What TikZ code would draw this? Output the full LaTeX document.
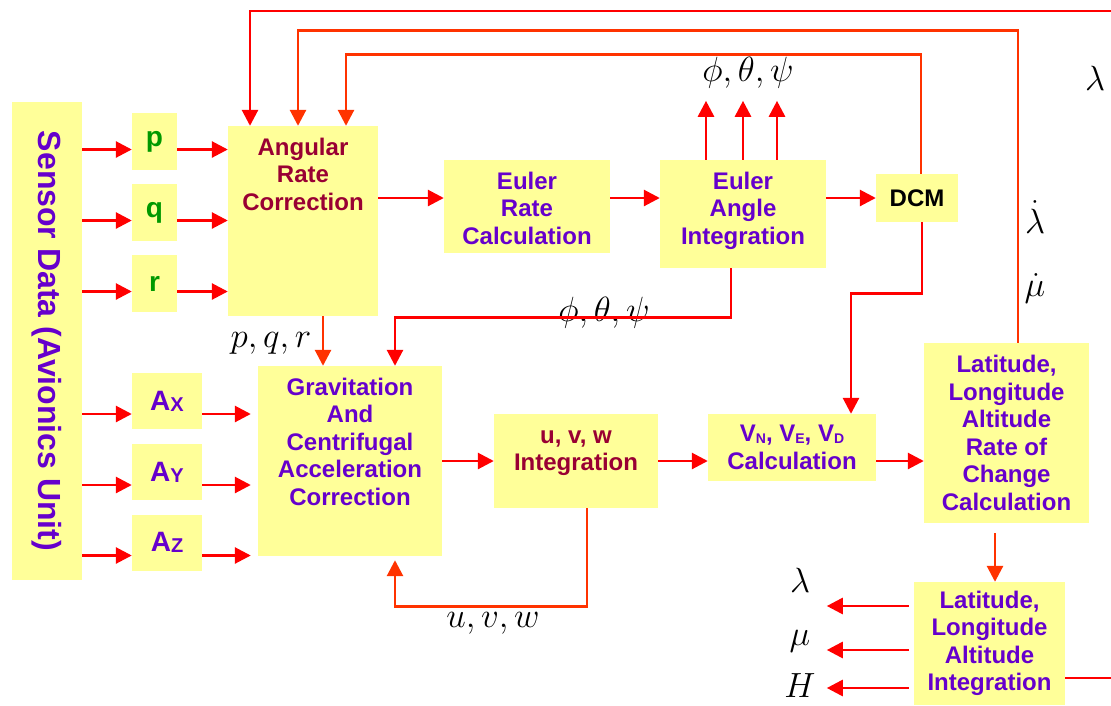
\RequirePackage{fix-cm}
\documentclass[tikz,border=0pt]{standalone}
\usepackage{fontspec}
\setmainfont{Liberation Sans}
\usetikzlibrary{positioning,arrows.meta}
\definecolor{boxyellow}{HTML}{FFFF99}
\definecolor{calcpurple}{HTML}{6600CC}
\definecolor{darkred}{HTML}{990033}
\definecolor{siggreen}{HTML}{009900}
\definecolor{arrowred}{HTML}{FF0000}
\definecolor{feedred}{HTML}{FF3300}
\newcommand{\toptext}[3]{\parbox[c][#1][t]{#2}{\centering\rule{0pt}{29pt}#3}}
\newcommand{\axsub}[1]{\raisebox{-1pt}{\fontsize{20}{20}\selectfont #1}}
\newcommand{\vsub}[1]{\raisebox{-2pt}{\fontsize{14}{14}\selectfont #1}}

\begin{document}
\begin{tikzpicture}[x=1pt, y=-1pt,
  blk/.style={fill=boxyellow, inner sep=0pt, align=center, text=calcpurple,
              font=\fontsize{24}{27.5}\selectfont\bfseries},
  sig/.style={blk, text=siggreen, font=\fontsize{28}{30}\selectfont\bfseries},
  flow/.style={draw=arrowred, line width=2.8pt, -{Triangle[length=16pt, width=16pt]}},
  feed/.style={flow, draw=feedred},
  var/.style={inner sep=0pt, font=\fontsize{35}{35}\selectfont}
]
\useasboundingbox (0,0) rectangle (1111,705);

% sensor and inputs
\node[blk, minimum width=70pt, minimum height=478pt, font=\fontsize{32}{32}\selectfont\bfseries]
  (sensor) at (47,341) {\rotatebox{-90}{Sensor Data (Avionics Unit)}};
\node[sig, minimum width=45pt, minimum height=57pt] (p) at (154.5,141.5) {p};
\node[sig, minimum width=45pt, minimum height=57pt] (q) at (154.5,212.5) {q};
\node[sig, minimum width=45pt, minimum height=57pt] (r) at (154.5,283.5) {r};
\node[sig, text=calcpurple, minimum width=70pt, minimum height=56pt] (ax) at (167,401) {A\axsub{X}};
\node[sig, text=calcpurple, minimum width=70pt, minimum height=56pt] (ay) at (167,472) {A\axsub{Y}};
\node[sig, text=calcpurple, minimum width=70pt, minimum height=56pt] (az) at (167,542.5) {A\axsub{Z}};

% blocks
\node[blk, text=darkred] (arc) at (303,221) {\toptext{190pt}{150pt}{Angular\\Rate\\Correction}};
\node[blk] (er) at (527,206.5) {\toptext{93pt}{166pt}{Euler\\Rate\\Calculation}};
\node[blk] (eai) at (743,214) {\toptext{108pt}{166pt}{Euler\\Angle\\Integration}};
\node[blk, text=black, minimum width=82pt, minimum height=48pt] (dcm) at (917,198) {DCM};
\node[blk] (gacc) at (350,461)
  {\toptext{190pt}{184pt}{Gravitation\\And\\Centrifugal\\Acceleration\\Correction}};
\node[blk, text=darkred] (uvw) at (576,461) {\toptext{94pt}{164pt}{u, v, w\\Integration}};
\node[blk, minimum width=168pt, minimum height=67pt] (vn) at (792,447.5)
  {V\vsub{N}, V\vsub{E}, V\vsub{D}\\Calculation};
\node[blk, minimum width=165pt, minimum height=180pt] (lr) at (1006.5,433)
  {Latitude,\\Longitude\\Altitude\\Rate of\\Change\\Calculation};
\node[blk, minimum width=151pt, minimum height=123pt] (li) at (989.5,643.5)
  {Latitude,\\Longitude\\Altitude\\Integration};

% variable labels
\node[var] (angout) at (748,73) {$\phi,\theta,\psi$};
\node[var] (anglbl) at (604,313) {$\phi,\theta,\psi$};
\node[var] (pqrlbl) at (271,343) {$p,q,r$};
\node[var] (uvwlbl) at (493,623) {$u,v,w$};
\node[var] (lamtop) at (1095,78) {$\lambda$};
\node[var] (lamdot) at (1035,217) {$\dot\lambda$};
\node[var] (mudot) at (1035,288) {$\dot\mu$};
\node[var] (lamout) at (800,580) {$\lambda$};
\node[var] (muout) at (800,641) {$\mu$};
\node[var] (hout) at (800,686) {$H$};
\coordinate (farright) at (1111,11);
\coordinate (farright2) at (1111,678);

% sensor to signals
\draw[flow] ([yshift=-8pt]sensor.east |- p.west) -- ([yshift=-8pt]p.west);
\draw[flow] ([yshift=-8pt]sensor.east |- q.west) -- ([yshift=-8pt]q.west);
\draw[flow] ([yshift=-8pt]sensor.east |- r.west) -- ([yshift=-8pt]r.west);
\draw[flow] ([yshift=-8pt]p.east) -- ([yshift=-8pt]arc.west |- p.east);
\draw[flow] ([yshift=-8pt]q.east) -- ([yshift=-8pt]arc.west |- q.east);
\draw[flow] ([yshift=-8pt]r.east) -- ([yshift=-8pt]arc.west |- r.east);
\draw[flow] ([yshift=-13pt]sensor.east |- ax.west) -- ([yshift=-13pt]ax.west);
\draw[flow] ([yshift=-13pt]sensor.east |- ay.west) -- ([yshift=-13pt]ay.west);
\draw[flow] ([yshift=-13pt]sensor.east |- az.west) -- ([yshift=-13pt]az.west);
\draw[flow, shorten >=7pt] ([yshift=-13pt]ax.east) -- ([yshift=-13pt]gacc.west |- ax.east);
\draw[flow, shorten >=7pt] ([yshift=-13pt]ay.east) -- ([yshift=-13pt]gacc.west |- ay.east);
\draw[flow, shorten >=7pt] ([yshift=-13pt]az.east) -- ([yshift=-13pt]gacc.west |- az.east);

% attitude chain
\draw[flow] (arc.east |- dcm) -- (er.west |- dcm);
\draw[flow] (er.east |- dcm) -- (eai.west |- dcm);
\draw[flow] (eai.east |- dcm) -- (dcm.west);
\draw[flow] ([xshift=-37pt]eai.north) -- ++(0,-59);
\draw[flow] (eai.north) -- ++(0,-59);
\draw[flow] ([xshift=34pt]eai.north) -- ++(0,-59);
\draw[flow] ([xshift=-12pt]eai.south) -- ++(0,49) -| ([xshift=45pt]gacc.north);
\draw[feed] ([xshift=20pt]arc.south) -- ([xshift=20pt]arc.south |- gacc.north);
\draw[flow] ([xshift=5pt]dcm.south) -- ++(0,71) -| ([xshift=59pt]vn.north);

% feedback to angular rate correction
\draw[flow] (farright) -| ([xshift=-53pt]arc.north);
\draw[feed] ([xshift=11.5pt]lr.north) -- ++(0,-312) -| ([xshift=-5pt]arc.north);
\draw[feed] ([xshift=4pt]dcm.north) -- ++(0,-119) -| ([xshift=43pt]arc.north);

% velocity and position chain
\draw[flow] (gacc.east) -- (uvw.west);
\draw[flow] (uvw.east) -- (vn.west |- uvw.east);
\draw[flow] (vn.east |- uvw.east) -- (lr.west |- uvw.east);
\draw[feed, shorten >=4pt] ([xshift=11pt]uvw.south) -- ++(0,98) -| ([xshift=45pt]gacc.south);
\draw[feed, shorten <=10pt] ([xshift=-11.5pt]lr.south) -- ([xshift=-11.5pt]lr.south |- li.north);
\draw[flow, shorten <=5pt] ([yshift=37.5pt]li.west) -- ++(-87,0);
\draw[flow, shorten <=5pt] ([yshift=-6.5pt]li.west) -- ++(-87,0);
\draw[flow, shorten <=5pt] ([yshift=-44.5pt]li.west) -- ++(-87,0);
\draw[flow, -] ([yshift=-34.5pt]li.east) -- (farright2);
\end{tikzpicture}
\end{document}
